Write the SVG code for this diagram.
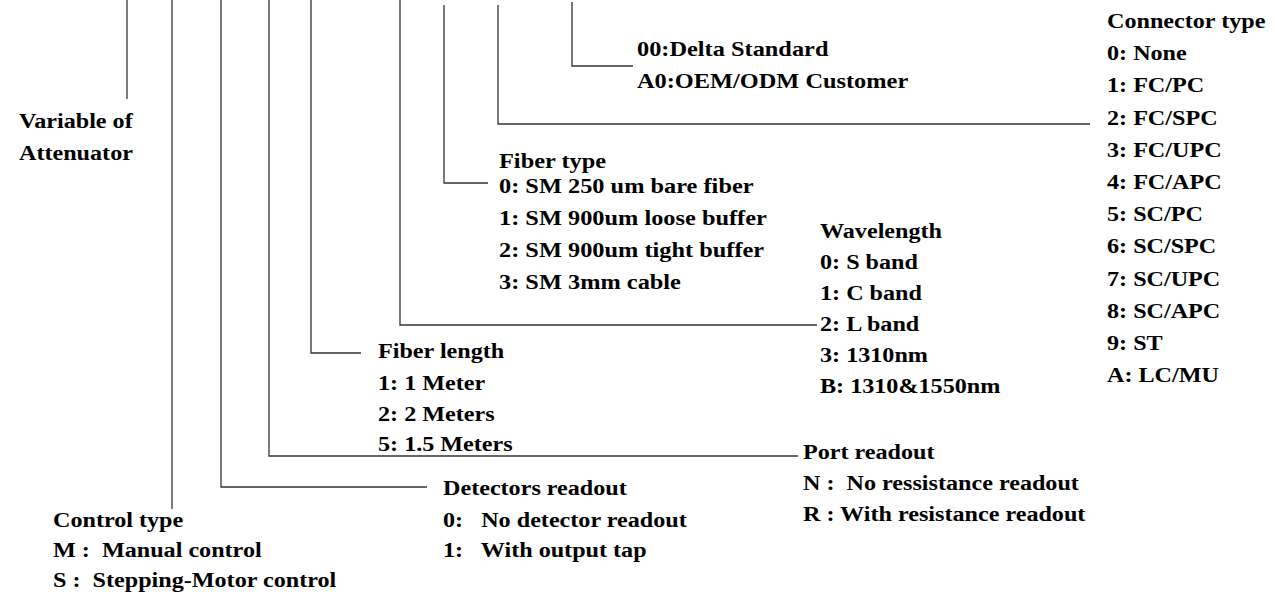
<svg xmlns="http://www.w3.org/2000/svg" width="1275" height="602" viewBox="0 0 1275 602">
<style>
text{font-family:"Liberation Serif","Times New Roman",serif;font-weight:bold;font-size:21px;fill:#000;white-space:pre}
.ln{fill:none;stroke:#333;stroke-width:1.3}
</style>
<rect width="1275" height="602" fill="#fff"/>
<g id="connectors">
<path class="ln" d="M127 0V99"/>
<path class="ln" d="M172 0V509"/>
<path class="ln" d="M221 0V487H427"/>
<path class="ln" d="M269 0V456H798"/>
<path class="ln" d="M311 0V353H361"/>
<path class="ln" d="M400 0V325H817"/>
<path class="ln" d="M444 5V183H488"/>
<path class="ln" d="M498 5V124H1090"/>
<path class="ln" d="M572 2V66H633"/>
</g>
<g id="attenuator" transform="translate(19,0) scale(1.15,1)">
<text x="0" y="128">Variable of</text>
<text x="0" y="160">Attenuator</text>
</g>
<g id="customer" transform="translate(637,0) scale(1.16,1)">
<text x="0" y="56">00:Delta Standard</text>
<text x="0" y="88">A0:OEM/ODM Customer</text>
</g>
<g id="connector-type" transform="translate(1107,0) scale(1.15,1)">
<text x="0" y="28">Connector type</text>
<text x="0" y="60">0: None</text>
<text x="0" y="92">1: FC/PC</text>
<text x="0" y="125">2: FC/SPC</text>
<text x="0" y="157">3: FC/UPC</text>
<text x="0" y="189">4: FC/APC</text>
<text x="0" y="221">5: SC/PC</text>
<text x="0" y="253">6: SC/SPC</text>
<text x="0" y="286">7: SC/UPC</text>
<text x="0" y="318">8: SC/APC</text>
<text x="0" y="350">9: ST</text>
<text x="0" y="382">A: LC/MU</text>
</g>
<g id="fiber-type" transform="translate(499,0) scale(1.16,1)">
<text x="0" y="168">Fiber type</text>
<text x="0" y="193">0: SM 250 um bare fiber</text>
<text x="0" y="225">1: SM 900um loose buffer</text>
<text x="0" y="257">2: SM 900um tight buffer</text>
<text x="0" y="289">3: SM 3mm cable</text>
</g>
<g id="wavelength" transform="translate(820,0) scale(1.15,1)">
<text x="0" y="238">Wavelength</text>
<text x="0" y="269">0: S band</text>
<text x="0" y="300">1: C band</text>
<text x="0" y="331">2: L band</text>
<text x="0" y="362">3: 1310nm</text>
<text x="0" y="393">B: 1310&amp;1550nm</text>
</g>
<g id="fiber-length" transform="translate(378,0) scale(1.15,1)">
<text x="0" y="358">Fiber length</text>
<text x="0" y="390">1: 1 Meter</text>
<text x="0" y="421">2: 2 Meters</text>
<text x="0" y="451">5: 1.5 Meters</text>
</g>
<g id="port-readout" transform="translate(803,0) scale(1.15,1)">
<text x="0" y="459">Port readout</text>
<text x="0" y="490" xml:space="preserve">N :  No ressistance readout</text>
<text x="0" y="521">R : With resistance readout</text>
</g>
<g id="detectors-readout" transform="translate(443,0) scale(1.15,1)">
<text x="0" y="495">Detectors readout</text>
<text x="0" y="527" xml:space="preserve">0:   No detector readout</text>
<text x="0" y="557" xml:space="preserve">1:   With output tap</text>
</g>
<g id="control-type" transform="translate(53,0) scale(1.15,1)">
<text x="0" y="527">Control type</text>
<text x="0" y="557" xml:space="preserve">M :  Manual control</text>
<text x="0" y="587" xml:space="preserve">S :  Stepping-Motor control</text>
</g>
</svg>
